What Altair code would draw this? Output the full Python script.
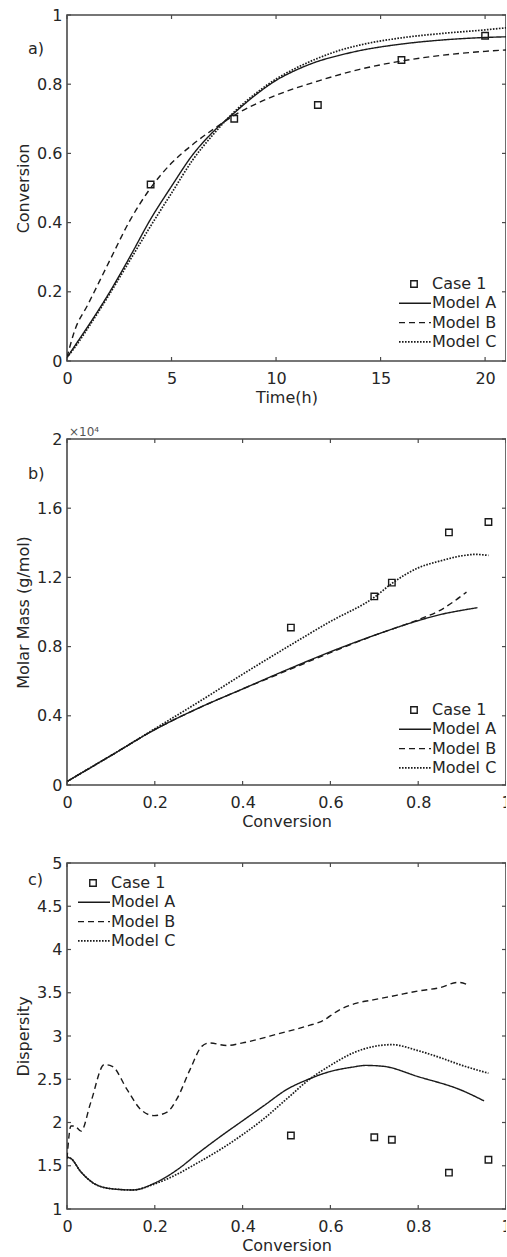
import altair as alt
import pandas as pd

FONT = "DejaVu Sans"
INK = "#262626"
LINE = "#1a1a1a"
FRAME = "#4a4a4a"
W, H = 439, 346

# ---------------- Panel a: conversion vs time ----------------
a_time = [0, 0.5, 1, 2, 3, 4, 5, 6, 7, 8, 9, 10, 11, 12, 13, 14, 16, 18, 20, 21]
a_model_a = [0.01, 0.055, 0.1, 0.195, 0.3, 0.41, 0.505, 0.595, 0.663, 0.717, 0.768, 0.811, 0.842, 0.866, 0.883, 0.897, 0.916, 0.928, 0.935, 0.937]
a_model_c = [0.01, 0.05, 0.095, 0.19, 0.29, 0.39, 0.485, 0.58, 0.655, 0.72, 0.772, 0.815, 0.848, 0.875, 0.897, 0.913, 0.934, 0.947, 0.957, 0.963]
a_time_b = [0, 0.35, 1, 2, 3, 4, 5, 6, 7, 8, 9, 10, 12, 14, 16, 18, 20, 21]
a_model_b = [0.01, 0.085, 0.163, 0.285, 0.405, 0.5, 0.572, 0.625, 0.67, 0.71, 0.742, 0.768, 0.809, 0.843, 0.867, 0.884, 0.895, 0.899]
a_case_t = [4, 8, 12, 16, 20]
a_case_y = [0.51, 0.70, 0.74, 0.87, 0.94]

# ---------------- Panel b: molar mass vs conversion ----------------
b_conv_a = [0, 0.05, 0.1, 0.2, 0.3, 0.4, 0.5, 0.6, 0.7, 0.8, 0.85, 0.9, 0.935]
b_model_a = [200, 950, 1700, 3200, 4450, 5550, 6650, 7700, 8650, 9500, 9850, 10100, 10250]
b_conv_b = [0, 0.05, 0.1, 0.2, 0.3, 0.4, 0.5, 0.6, 0.7, 0.8, 0.85, 0.91]
b_model_b = [200, 950, 1700, 3200, 4450, 5550, 6600, 7650, 8650, 9550, 10100, 11150]
b_conv_c = [0, 0.05, 0.1, 0.2, 0.3, 0.4, 0.5, 0.6, 0.7, 0.74, 0.8, 0.85, 0.9, 0.93, 0.96]
b_model_c = [200, 950, 1700, 3250, 4800, 6400, 7950, 9450, 10850, 11650, 12550, 12950, 13250, 13330, 13270]
b_case_x = [0.51, 0.70, 0.74, 0.87, 0.96]
b_case_y = [9100, 10900, 11700, 14600, 15200]

# ---------------- Panel c: dispersity vs conversion ----------------
c_conv_a = [0, 0.01, 0.03, 0.06, 0.1, 0.15, 0.2, 0.25, 0.3, 0.35, 0.4, 0.45, 0.5, 0.55, 0.6, 0.65, 0.68, 0.72, 0.8, 0.9, 0.95]
c_model_a = [1.6, 1.58, 1.44, 1.3, 1.235, 1.22, 1.3, 1.45, 1.65, 1.84, 2.02, 2.2, 2.38, 2.5, 2.59, 2.64, 2.66, 2.65, 2.53, 2.37, 2.25]
c_conv_b = [0, 0.009, 0.017, 0.032, 0.054, 0.085, 0.103, 0.137, 0.168, 0.198, 0.228, 0.25, 0.281, 0.307, 0.325, 0.364, 0.4, 0.485, 0.55, 0.58, 0.62, 0.66, 0.7, 0.75, 0.8, 0.85, 0.89, 0.915]
c_model_b = [1.58, 1.96, 1.96, 1.9, 2.23, 2.67, 2.65, 2.38, 2.15, 2.08, 2.12, 2.27, 2.62, 2.88, 2.92, 2.89, 2.92, 3.03, 3.12, 3.17, 3.3, 3.38, 3.42, 3.47, 3.52, 3.56, 3.62, 3.59]
c_conv_c = [0, 0.01, 0.03, 0.06, 0.1, 0.15, 0.2, 0.25, 0.3, 0.35, 0.4, 0.45, 0.5, 0.55, 0.6, 0.65, 0.7, 0.74, 0.8, 0.85, 0.9, 0.96]
c_model_c = [1.6, 1.58, 1.44, 1.3, 1.235, 1.22, 1.29, 1.4, 1.54, 1.69, 1.86, 2.05, 2.27, 2.49, 2.66, 2.8, 2.88, 2.9, 2.83, 2.75, 2.66, 2.57]
c_case_x = [0.51, 0.70, 0.74, 0.87, 0.96]
c_case_y = [1.85, 1.83, 1.80, 1.42, 1.57]

legend_labels = ["Case 1", "Model A", "Model B", "Model C"]
DASH = {"Model A": [1, 0], "Model B": [6, 4], "Model C": [1.6, 1.4]}
WIDTH = {"Model A": 1.4, "Model B": 1.4, "Model C": 1.7}


def panel(series, case_x, case_y, xdom, ydom, xticks, yticks, xtitle, ytitle,
          tag, tag_y, leg_x, leg_y, ylabel_expr=None, multiplier=False):
    xs = alt.Scale(domain=xdom, nice=False, zero=False)
    ys = alt.Scale(domain=ydom, nice=False, zero=False)
    xaxis = alt.Axis(values=xticks, title=xtitle, grid=False, ticks=False, tickSize=0,
                     domain=False, labelPadding=9, labelFlush=False, labelOverlap=False,
                     titlePadding=3, format="~g")
    ykw = dict(values=yticks, title=ytitle, grid=False, ticks=False, tickSize=0,
               domain=False, labelPadding=5, labelOverlap=False, titlePadding=5, format="~g")
    if ylabel_expr:
        ykw["labelExpr"] = ylabel_expr
    yaxis = alt.Axis(**ykw)

    def X(f):
        return alt.X(f, scale=xs, axis=xaxis)

    def Y(f):
        return alt.Y(f, scale=ys, axis=yaxis)

    layers = []
    for name, (xv, yv) in series.items():
        df = pd.DataFrame({"x": xv, "y": yv})
        layers.append(
            alt.Chart(df).mark_line(strokeDash=DASH[name], color=LINE, strokeWidth=WIDTH[name],
                                    interpolate="monotone", clip=True)
            .encode(x=X("x:Q"), y=Y("y:Q"))
        )
    dfc = pd.DataFrame({"x": case_x, "y": case_y})
    layers.append(
        alt.Chart(dfc).mark_point(shape="square", filled=False, color=LINE, size=42,
                                  strokeWidth=1.4, opacity=1)
        .encode(x=X("x:Q"), y=Y("y:Q"))
    )
    # inward ticks on all four sides
    dxt = pd.DataFrame({"v": xticks})
    dyt = pd.DataFrame({"v": yticks})
    tk = dict(color=FRAME, strokeWidth=1.2)
    layers.append(alt.Chart(dxt).mark_rule(**tk).encode(x=X("v:Q"), y=alt.value(H), y2=alt.value(H - 4)))
    layers.append(alt.Chart(dxt).mark_rule(**tk).encode(x=X("v:Q"), y=alt.value(0), y2=alt.value(4)))
    layers.append(alt.Chart(dyt).mark_rule(**tk).encode(y=Y("v:Q"), x=alt.value(0), x2=alt.value(4)))
    layers.append(alt.Chart(dyt).mark_rule(**tk).encode(y=Y("v:Q"), x=alt.value(W), x2=alt.value(W - 4)))

    # panel tag
    layers.append(
        alt.Chart(pd.DataFrame({"t": [tag]})).mark_text(align="left", baseline="middle",
                                                        fontSize=16, color=INK, font=FONT)
        .encode(text="t:N", x=alt.value(-39), y=alt.value(tag_y))
    )
    if multiplier:
        layers.append(
            alt.Chart(pd.DataFrame({"t": ["×10⁴"]})).mark_text(align="left", baseline="middle",
                                                               fontSize=12, color="#555555", font=FONT)
            .encode(text="t:N", x=alt.value(2), y=alt.value(-7))
        )

    # legend
    step = 19.3
    for i, lab in enumerate(legend_labels):
        yy = leg_y + i * step
        d1 = pd.DataFrame({"t": [lab]})
        layers.append(
            alt.Chart(d1).mark_text(align="left", baseline="middle", fontSize=16,
                                    color=INK, font=FONT)
            .encode(text="t:N", x=alt.value(leg_x + 33), y=alt.value(yy))
        )
        if lab == "Case 1":
            layers.append(
                alt.Chart(d1).mark_point(shape="square", filled=False, color=LINE, size=42,
                                         strokeWidth=1.4, opacity=1)
                .encode(x=alt.value(leg_x + 15), y=alt.value(yy))
            )
        else:
            layers.append(
                alt.Chart(d1).mark_rule(color=LINE, strokeWidth=WIDTH[lab], strokeDash=DASH[lab])
                .encode(x=alt.value(leg_x), x2=alt.value(leg_x + 32), y=alt.value(yy))
            )
    return alt.layer(*layers).properties(width=W, height=H)


pa = panel(
    {"Model A": (a_time, a_model_a), "Model B": (a_time_b, a_model_b), "Model C": (a_time, a_model_c)},
    a_case_t, a_case_y, [0, 21], [0, 1], [0, 5, 10, 15, 20], [0, 0.2, 0.4, 0.6, 0.8, 1],
    "Time(h)", "Conversion", "a)", 34, 332, 269,
)
pb = panel(
    {"Model A": (b_conv_a, b_model_a), "Model B": (b_conv_b, b_model_b), "Model C": (b_conv_c, b_model_c)},
    b_case_x, b_case_y, [0, 1], [0, 20000], [0, 0.2, 0.4, 0.6, 0.8, 1],
    [0, 4000, 8000, 12000, 16000, 20000],
    "Conversion", "Molar Mass (g/mol)", "b)", 35, 332, 271,
    ylabel_expr="format(datum.value / 10000, '~g')", multiplier=True,
)
pc = panel(
    {"Model A": (c_conv_a, c_model_a), "Model B": (c_conv_b, c_model_b), "Model C": (c_conv_c, c_model_c)},
    c_case_x, c_case_y, [0, 1], [1, 5], [0, 0.2, 0.4, 0.6, 0.8, 1],
    [1, 1.5, 2, 2.5, 3, 3.5, 4, 4.5, 5],
    "Conversion", "Dispersity", "c)", 17, 11, 20,
)

chart = (
    alt.vconcat(pa, pb, pc, spacing=78, bounds="flush")
    .properties(padding={"left": 14, "top": 6, "right": -6, "bottom": 5}, background="white")
    .configure(font=FONT)
    .configure_view(stroke=FRAME, strokeWidth=1.6)
    .configure_axis(labelFont=FONT, titleFont=FONT, labelFontSize=16, titleFontSize=16,
                    labelColor=INK, titleColor=INK, titleFontWeight="normal")
)

chart.save("out.html", embed_options={"renderer": "svg", "actions": False})
